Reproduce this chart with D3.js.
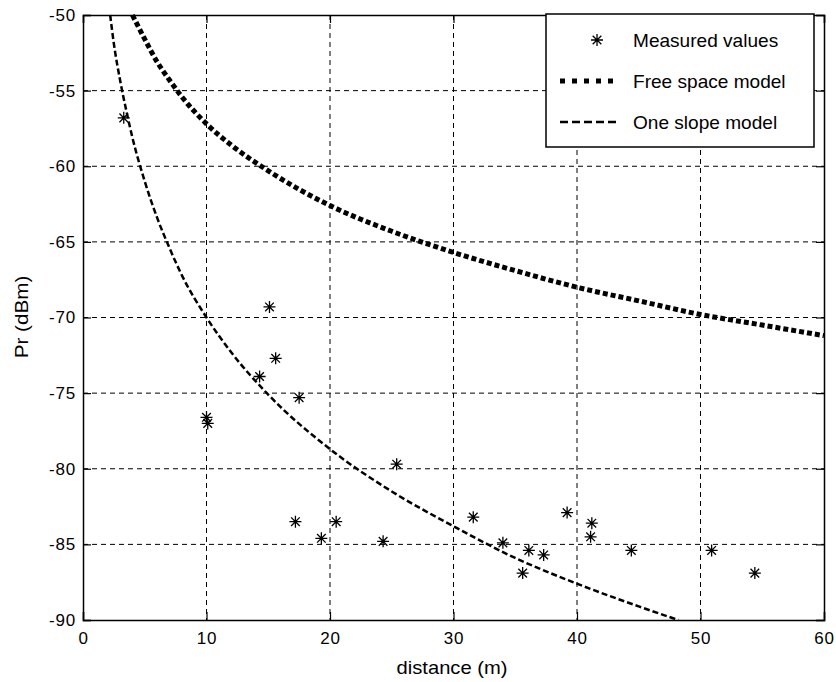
<!DOCTYPE html>
<html>
<head>
<meta charset="utf-8">
<script src="https://cdn.jsdelivr.net/npm/d3@7"></script>
<style>
  body { margin: 0; background: #fff; }
  svg { display: block; }
  text { font-family: "Liberation Sans", Arial, sans-serif; fill: #000; }
</style>
</head>
<body>
<div id="chart"></div>
<script>
// measured points (distance m, Pr dBm)
const measDist = [3.3, 10.0, 10.1, 14.3, 15.1, 15.6, 17.2, 17.5, 19.3, 20.5, 24.3, 25.4, 31.6, 34.0, 35.6, 36.1, 37.3, 39.2, 41.1, 41.2, 44.4, 50.9, 54.4];
const measPr = [-56.8, -76.6, -77.0, -73.9, -69.3, -72.7, -83.5, -75.3, -84.6, -83.5, -84.8, -79.7, -83.2, -84.9, -86.9, -85.4, -85.7, -82.9, -84.5, -83.6, -85.4, -85.4, -86.9];

// free space model curve
const freeDist = [4, 5, 6, 7, 8, 10, 12, 15, 20, 25, 30, 35, 40, 45, 50, 55, 60];
const freePr = [-50, -51.6, -53.1, -54.3, -55.4, -57.2, -58.6, -60.3, -62.6, -64.3, -65.7, -66.9, -68.0, -68.9, -69.8, -70.5, -71.2];

// one slope model curve
const slopeDist = [2.2, 2.5, 3, 3.5, 4, 5, 6, 7, 8, 10, 12, 15, 20, 25, 30, 35, 40, 45, 48.2];
const slopePr = [-50, -51.9, -54.3, -56.3, -58.1, -61.0, -63.4, -65.4, -67.2, -70.0, -72.3, -75.1, -78.7, -81.5, -83.8, -85.9, -87.6, -89.1, -90];

const xTicks = [0, 10, 20, 30, 40, 50, 60];
const yTicks = [-50, -55, -60, -65, -70, -75, -80, -85, -90];
const legendLabels = ["Measured values", "Free space model", "One slope model"];

const width = 836, height = 682;
const margin = { left: 83, right: 12, top: 15, bottom: 62 };
const innerWidth = width - margin.left - margin.right;
const innerHeight = height - margin.top - margin.bottom;

const svg = d3.select("#chart").append("svg")
  .attr("width", width)
  .attr("height", height);

const x = d3.scaleLinear().domain([0, 60]).range([0, innerWidth]);
const y = d3.scaleLinear().domain([-90, -50]).range([innerHeight, 0]);

const g = svg.append("g")
  .attr("transform", `translate(${margin.left},${margin.top})`);

// grid
g.append("g").selectAll("line")
  .data(xTicks.slice(1, -1))
  .join("line")
  .attr("x1", d => x(d)).attr("x2", d => x(d))
  .attr("y1", 0).attr("y2", innerHeight)
  .attr("stroke", "#000").attr("stroke-width", 1)
  .attr("stroke-dasharray", "5,4");
g.append("g").selectAll("line")
  .data(yTicks.slice(1, -1))
  .join("line")
  .attr("y1", d => y(d)).attr("y2", d => y(d))
  .attr("x1", 0).attr("x2", innerWidth)
  .attr("stroke", "#000").attr("stroke-width", 1)
  .attr("stroke-dasharray", "5,4");

// axes (ticks point inward like matlab)
const fmt = d => d3.format("d")(d).replace("−", "-");
const xAxis = g.append("g").attr("transform", `translate(0,${innerHeight})`)
  .call(d3.axisBottom(x).tickValues(xTicks).tickSize(-8).tickPadding(12).tickFormat(fmt));
const yAxis = g.append("g")
  .call(d3.axisLeft(y).tickValues(yTicks).tickSize(-8).tickPadding(7).tickFormat(fmt));
const topAxis = g.append("g")
  .call(d3.axisTop(x).tickValues(xTicks).tickSize(-8));
const rightAxis = g.append("g").attr("transform", `translate(${innerWidth},0)`)
  .call(d3.axisRight(y).tickValues(yTicks).tickSize(-8));
topAxis.selectAll("text").remove();
rightAxis.selectAll("text").remove();

g.selectAll(".domain").attr("stroke", "#000").attr("stroke-width", 1.5);
g.selectAll(".tick line").attr("stroke", "#000").attr("stroke-width", 1.2);
g.selectAll(".tick text")
  .style("font-size", "17px")
  .style("letter-spacing", "0.8px")
  .style("font-family", "'Liberation Sans', Arial, sans-serif");

// curves
const line = d3.line().x(d => x(d[0])).y(d => y(d[1])).curve(d3.curveMonotoneX);

g.append("path")
  .datum(freeDist.map((d, i) => [d, freePr[i]]))
  .attr("d", line)
  .attr("fill", "none")
  .attr("stroke", "#000")
  .attr("stroke-width", 5)
  .attr("stroke-dasharray", "5,3");

g.append("path")
  .datum(slopeDist.map((d, i) => [d, slopePr[i]]))
  .attr("d", line)
  .attr("fill", "none")
  .attr("stroke", "#000")
  .attr("stroke-width", 2.5)
  .attr("stroke-dasharray", "6,3");

// asterisk markers
const star = (r) => {
  const a = r * 0.72;
  return `M0,${-r}L0,${r}M${-r},0L${r},0M${-a},${-a}L${a},${a}M${-a},${a}L${a},${-a}`;
};

g.append("g").selectAll("path")
  .data(measDist.map((d, i) => [d, measPr[i]]))
  .join("path")
  .attr("transform", d => `translate(${x(d[0])},${y(d[1])})`)
  .attr("d", star(6))
  .attr("fill", "none")
  .attr("stroke", "#000")
  .attr("stroke-width", 1.3);

// axis titles
svg.append("g")
  .attr("transform", `translate(452,674) scale(1.12,1)`)
  .append("text")
  .attr("text-anchor", "middle")
  .style("font-size", "18px")
  .text("distance (m)");

svg.append("g")
  .attr("transform", `translate(28,317) rotate(-90) scale(1.15,1)`)
  .append("text")
  .attr("text-anchor", "middle")
  .style("font-size", "18px")
  .text("Pr (dBm)");

// legend
const legend = svg.append("g").attr("transform", "translate(546,14)");
legend.append("rect")
  .attr("width", 268).attr("height", 133)
  .attr("fill", "#fff").attr("stroke", "#000").attr("stroke-width", 1.5);

const rowY = [26, 67, 108];
legend.append("path")
  .attr("transform", `translate(51,${rowY[0]})`)
  .attr("d", star(6))
  .attr("fill", "none").attr("stroke", "#000").attr("stroke-width", 1.3);
legend.append("line")
  .attr("x1", 14).attr("x2", 74).attr("y1", rowY[1]).attr("y2", rowY[1])
  .attr("stroke", "#000").attr("stroke-width", 5).attr("stroke-dasharray", "5,7");
legend.append("line")
  .attr("x1", 14).attr("x2", 74).attr("y1", rowY[2]).attr("y2", rowY[2])
  .attr("stroke", "#000").attr("stroke-width", 2.5).attr("stroke-dasharray", "8,4");

legend.selectAll("g.lab")
  .data(legendLabels)
  .join("g")
  .attr("class", "lab")
  .attr("transform", (d, i) => `translate(87,${rowY[i] + 6.5}) scale(1.06,1)`)
  .append("text")
  .style("font-size", "18px")
  .text(d => d);
</script>
</body>
</html>
